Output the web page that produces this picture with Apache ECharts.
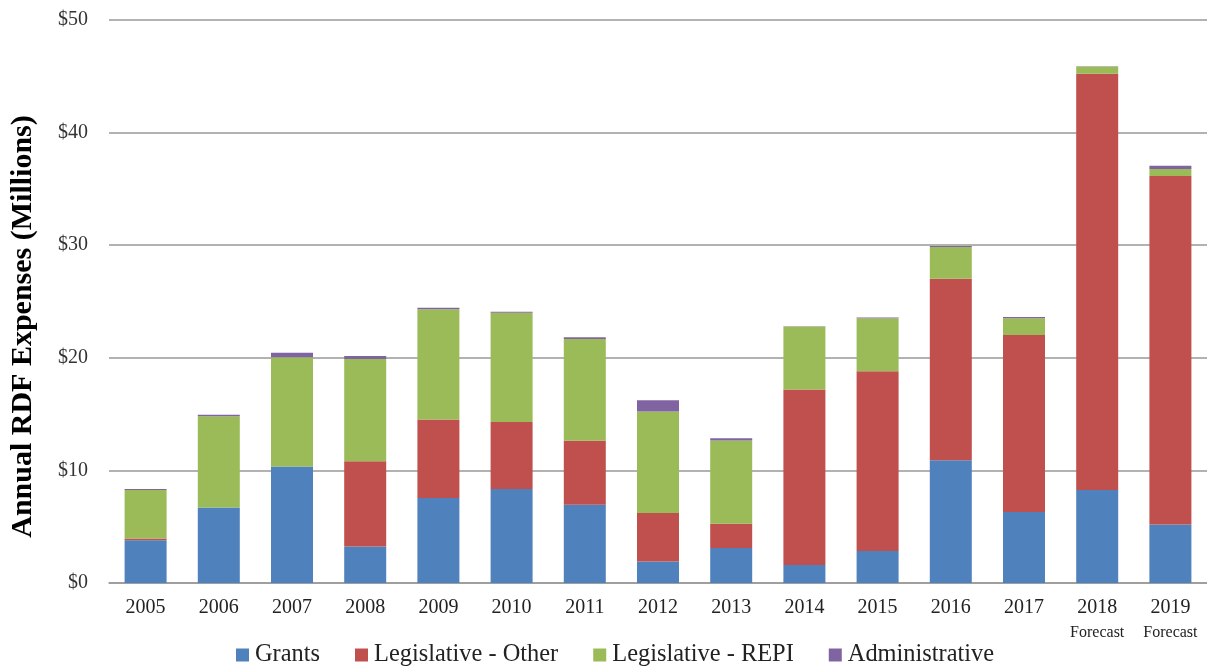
<!DOCTYPE html>
<html>
<head>
<meta charset="utf-8">
<script src="https://cdn.jsdelivr.net/npm/echarts@6/dist/echarts.min.js"></script>
<style>
html,body{margin:0;padding:0;background:#fff;}
#chart{width:1207px;height:668px;}
</style>
</head>
<body>
<div id="chart"></div>
<script>
var categories = ['2005','2006','2007','2008','2009','2010','2011','2012','2013','2014','2015','2016','2017','2018','2019'];
var forecastYears = ['2018','2019'];
var grants = [3.8, 6.7, 10.35, 3.25, 7.55, 8.35, 6.95, 1.92, 3.1, 1.6, 2.84, 10.9, 6.3, 8.25, 5.2];
var legislativeOther = [0.15, 0, -0.15, 7.57, 6.97, 5.95, 5.68, 4.29, 2.16, 15.58, 15.97, 16.12, 15.73, 36.97, 30.94];
var legislativeRepi = [4.3, 8.1, 9.7, 9.08, 9.8, 9.7, 9.05, 9.02, 7.4, 5.6, 4.7, 2.81, 1.48, 0.65, 0.62];
var administrative = [0.1, 0.15, 0.4, 0.27, 0.12, 0.1, 0.15, 1.0, 0.2, 0.03, 0.06, 0.09, 0.12, 0.03, 0.3];
var yTicks = [0, 10, 20, 30, 40, 50];

var FONT = "'Liberation Serif', 'DejaVu Serif', serif";
var chart = echarts.init(document.getElementById('chart'));

function barSeries(name, data, color) {
  return {
    name: name,
    type: 'bar',
    stack: 'total',
    data: data,
    barWidth: 42,
    itemStyle: { color: color },
    emphasis: { disabled: true }
  };
}

chart.setOption({
  animation: false,
  backgroundColor: '#fff',
  grid: { left: 108, top: 20, bottom: 85, width: 1105 },
  legend: {
    left: 231,
    top: 638,
    itemWidth: 13,
    itemHeight: 13,
    itemGap: 35,
    icon: 'rect',
    textStyle: { fontFamily: FONT, fontSize: 24.4, color: '#222', padding: [0, 0, 0, 1] },
    data: ['Grants', 'Legislative - Other', 'Legislative - REPI', 'Administrative']
  },
  xAxis: {
    type: 'category',
    data: categories,
    axisTick: { show: false },
    axisLine: { lineStyle: { color: '#999', width: 1.5 } },
    axisLabel: {
      interval: 0,
      margin: 14,
      fontFamily: FONT,
      fontSize: 20,
      color: '#222',
      formatter: function (v) {
        return forecastYears.indexOf(v) >= 0 ? '{y|' + v + '}\n{f|Forecast}' : '{y|' + v + '}';
      },
      rich: {
        y: { fontFamily: FONT, fontSize: 20, color: '#222', lineHeight: 22 },
        f: { fontFamily: FONT, fontSize: 16, color: '#222', lineHeight: 28 }
      }
    }
  },
  yAxis: {
    type: 'value',
    min: yTicks[0],
    max: yTicks[yTicks.length - 1],
    interval: 10,
    name: 'Annual RDF Expenses (Millions)',
    nameLocation: 'middle',
    nameRotate: 90,
    nameGap: 71,
    nameTextStyle: { fontFamily: FONT, fontSize: 30, fontWeight: 'bold', color: '#000', padding: [0, 50, 0, 0] },
    axisLine: { show: false },
    axisTick: { show: false },
    axisLabel: { margin: 21, fontFamily: FONT, fontSize: 20, color: '#333', formatter: '${value}' },
    splitLine: { lineStyle: { color: '#999', width: 1.5 } }
  },
  series: [
    barSeries('Grants', grants, '#4F81BD'),
    barSeries('Legislative - Other', legislativeOther, '#C0504D'),
    barSeries('Legislative - REPI', legislativeRepi, '#9BBB59'),
    barSeries('Administrative', administrative, '#8064A2')
  ]
});
</script>
</body>
</html>
